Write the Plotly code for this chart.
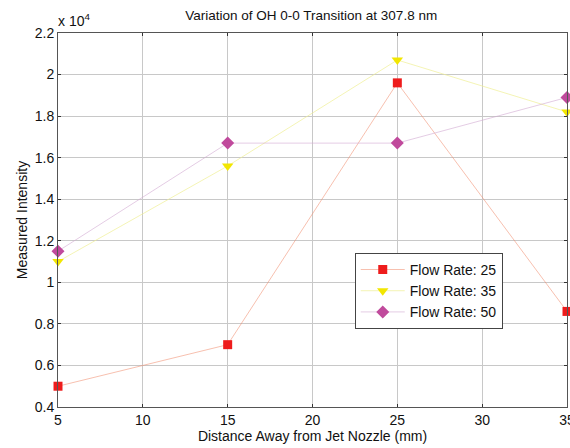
import plotly.graph_objects as go

distance = [5, 15, 25, 35]
flow25 = [5000, 7000, 19600, 8600]
flow35 = [11000, 15600, 20700, 18200]
flow50 = [11500, 16700, 16700, 18900]
y_ticks = [4000, 6000, 8000, 10000, 12000, 14000, 16000, 18000, 20000, 22000]
y_ticktext = ["0.4", "0.6", "0.8", "1", "1.2", "1.4", "1.6", "1.8", "2", "2.2"]
x_ticks = [5, 10, 15, 20, 25, 30, 35]

FONT = "Liberation Sans, Arial, sans-serif"

fig = go.Figure()
series = [
    ("Flow Rate: 25", flow25, "square", "#ee1c1c", "rgba(240,140,110,0.55)", 9),
    ("Flow Rate: 35", flow35, "triangle-down", "#f2e600", "rgba(240,240,150,0.7)", 10),
    ("Flow Rate: 50", flow50, "diamond", "#c04a9c", "rgba(210,170,210,0.6)", 10),
]
for name, ys, sym, mc, lc, sz in series:
    fig.add_trace(go.Scatter(
        x=distance, y=ys, name=name, mode="lines+markers",
        line=dict(color=lc, width=1),
        marker=dict(symbol=sym, color=mc, size=sz, line=dict(width=0)),
        cliponaxis=False,
    ))

axis_common = dict(
    showgrid=True, gridcolor="#c8c8c8", gridwidth=1,
    showline=True, linecolor="#555555", linewidth=1, mirror="ticks",
    ticks="inside", ticklen=3, tickcolor="#333333",
    tickfont=dict(family=FONT, size=14, color="#111111"),
    zeroline=False, ticklabeloverflow="allow", automargin=False,
)
fig.update_xaxes(range=[5, 35], tickvals=x_ticks, ticktext=[str(v) for v in x_ticks],
                 title=dict(text="Distance Away from Jet Nozzle (mm)",
                            font=dict(family=FONT, size=14, color="#111111"), standoff=2),
                 **axis_common)
fig.update_yaxes(range=[4000, 22000], tickvals=y_ticks, ticktext=y_ticktext,
                 title=dict(text="Measured Intensity",
                            font=dict(family=FONT, size=14, color="#111111"), standoff=3),
                 **axis_common)

fig.update_layout(
    width=570, height=448,
    margin=dict(l=58, r=3, t=33, b=41),
    paper_bgcolor="white", plot_bgcolor="white",
    font=dict(family=FONT, size=14, color="#111111"),
    title=dict(text="Variation of OH 0-0 Transition at 307.8 nm",
               x=0.546, xanchor="center", y=0.965, yanchor="middle",
               font=dict(family=FONT, size=13.5, color="#111111")),
    legend=dict(x=0.583, y=0.412, xanchor="left", yanchor="top",
                bgcolor="white", bordercolor="#444444", borderwidth=1,
                font=dict(family=FONT, size=14, color="#111111"),
                itemwidth=44, tracegroupgap=0),
    showlegend=True,
    annotations=[dict(text="x 10<sup>4</sup>", xref="paper", yref="paper",
                      x=0.0, y=1.0, xanchor="left", yanchor="bottom",
                      showarrow=False, yshift=2, xshift=-2,
                      font=dict(family=FONT, size=14, color="#111111"))],
)

fig.write_html("out.html")
